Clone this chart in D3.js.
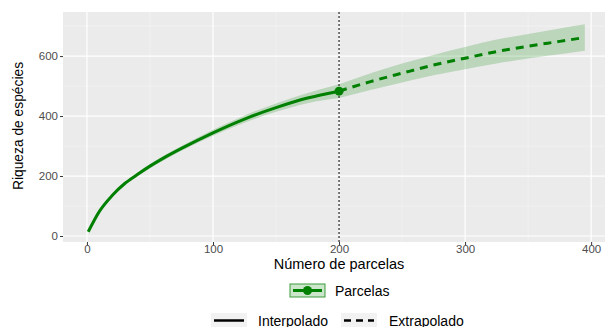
<!DOCTYPE html>
<html>
<head>
<meta charset="utf-8">
<script src="https://cdn.jsdelivr.net/npm/d3@7"></script>
<style>
  body { margin: 0; background: #fff; }
  text { font-family: 'Liberation Sans', Arial, sans-serif; }
</style>
</head>
<body>
<script>
// variables:
var w = 605
var h = 327
var margin = { top: 12, right: 0, bottom: 85, left: 63 }

// data
var interpX = [1, 10, 20, 30, 40, 50, 60, 75, 100, 125, 150, 175, 200]
var interpY = [14, 83, 135, 175, 205, 233, 258, 292, 344, 390, 428, 460, 483]
var interpLo = [13, 80, 131, 170, 199, 226, 250, 284, 334, 378, 414, 443, 460]
var interpHi = [15, 86, 139, 180, 211, 240, 266, 300, 354, 402, 442, 477, 506]

var extrapX = [200, 225, 250, 275, 300, 325, 350, 375, 395]
var extrapY = [483, 515, 543, 570, 593, 615, 633, 649, 662]
var extrapLo = [460, 487, 512, 536, 556, 575, 592, 606, 618]
var extrapHi = [506, 543, 575, 604, 630, 655, 674, 692, 706]

var refSize = 200
var refRichness = 483

var xTicks = [0, 100, 200, 300, 400]
var yTicks = [0, 200, 400, 600]

var green = '#008000'
var ribbon = 'rgba(0,128,0,0.2)'

var svg = d3.select('body')
  .append('svg')
  .attr('width', w)
  .attr('height', h)

var pw = w - margin.left - margin.right
var ph = h - margin.top - margin.bottom

var xScale = d3.scaleLinear().domain([-19, 411]).range([0, pw])
var yScale = d3.scaleLinear().domain([-20, 747]).range([ph, 0])

var g = svg.append('g').attr('transform', 'translate(' + margin.left + ',' + margin.top + ')')

// panel + grid
g.append('rect').attr('width', pw).attr('height', ph).attr('fill', '#EBEBEB')
var minorX = [50, 150, 250, 350]
var minorY = [100, 300, 500, 700]
g.selectAll('.mx').data(minorX).enter().append('line')
  .attr('x1', function (d) { return xScale(d) }).attr('x2', function (d) { return xScale(d) })
  .attr('y1', 0).attr('y2', ph).attr('stroke', '#F5F5F5').attr('stroke-width', 0.6)
g.selectAll('.my').data(minorY).enter().append('line')
  .attr('y1', function (d) { return yScale(d) }).attr('y2', function (d) { return yScale(d) })
  .attr('x1', 0).attr('x2', pw).attr('stroke', '#F5F5F5').attr('stroke-width', 0.6)
g.selectAll('.gx').data(xTicks).enter().append('line')
  .attr('x1', function (d) { return xScale(d) }).attr('x2', function (d) { return xScale(d) })
  .attr('y1', 0).attr('y2', ph).attr('stroke', '#fff').attr('stroke-width', 1.2)
g.selectAll('.gy').data(yTicks).enter().append('line')
  .attr('y1', function (d) { return yScale(d) }).attr('y2', function (d) { return yScale(d) })
  .attr('x1', 0).attr('x2', pw).attr('stroke', '#fff').attr('stroke-width', 1.2)

// ribbons
var interp = interpX.map(function (x, i) { return { x: x, y: interpY[i], lo: interpLo[i], hi: interpHi[i] } })
var extrap = extrapX.map(function (x, i) { return { x: x, y: extrapY[i], lo: extrapLo[i], hi: extrapHi[i] } })

var area = d3.area()
  .x(function (d) { return xScale(d.x) })
  .y0(function (d) { return yScale(d.lo) })
  .y1(function (d) { return yScale(d.hi) })
  .curve(d3.curveMonotoneX)
var line = d3.line()
  .x(function (d) { return xScale(d.x) })
  .y(function (d) { return yScale(d.y) })
  .curve(d3.curveMonotoneX)

g.append('path').datum(interp).attr('d', area).attr('fill', ribbon)
g.append('path').datum(extrap).attr('d', area).attr('fill', ribbon)

// reference line
g.append('line')
  .attr('x1', xScale(refSize)).attr('x2', xScale(refSize))
  .attr('y1', 0).attr('y2', ph)
  .attr('stroke', '#333').attr('stroke-width', 1.3).attr('stroke-dasharray', '2,2')

g.append('path').datum(interp).attr('d', line)
  .attr('fill', 'none').attr('stroke', green).attr('stroke-width', 3)
g.append('path').datum(extrap).attr('d', line)
  .attr('fill', 'none').attr('stroke', green).attr('stroke-width', 3)
  .attr('stroke-dasharray', '8,6')

g.append('circle')
  .attr('cx', xScale(refSize)).attr('cy', yScale(refRichness))
  .attr('r', 4.5).attr('fill', green)

// axes
var xAxis = g.append('g').attr('transform', 'translate(0,' + ph + ')')
  .call(d3.axisBottom(xScale).tickValues(xTicks).tickSize(3).tickPadding(0))
var yAxis = g.append('g')
  .call(d3.axisLeft(yScale).tickValues(yTicks).tickSize(3).tickPadding(2))
;[xAxis, yAxis].forEach(function (a) {
  a.select('.domain').remove()
  a.selectAll('line').attr('stroke', '#333')
  a.selectAll('text').attr('fill', '#4D4D4D').attr('font-size', '11.5px')
    .attr('font-family', "'Liberation Sans', Arial, sans-serif")
})

// axis titles
svg.append('text')
  .attr('x', margin.left + xScale(200)).attr('y', 269)
  .attr('text-anchor', 'middle').attr('font-size', '14.5px').attr('fill', '#000')
  .text('Número de parcelas')
svg.append('text')
  .attr('transform', 'translate(23,126) rotate(-90) scale(0.92,1)')
  .attr('text-anchor', 'middle').attr('font-size', '15px').attr('fill', '#000')
  .text('Riqueza de espécies')

// legend 1
var lg = svg.append('g').attr('transform', 'translate(290,284)')
lg.append('rect').attr('width', 35).attr('height', 13)
  .attr('fill', ribbon).attr('stroke', '#3c9a3c').attr('stroke-width', 1)
lg.append('line').attr('x1', 3).attr('x2', 32).attr('y1', 6.5).attr('y2', 6.5)
  .attr('stroke', green).attr('stroke-width', 3)
lg.append('circle').attr('cx', 17.5).attr('cy', 6.5).attr('r', 4.5).attr('fill', green)
lg.append('text').attr('x', 45).attr('y', 11.5).attr('font-size', '14px').attr('fill', '#000').text('Parcelas')

// legend 2
var lg2 = svg.append('g').attr('transform', 'translate(211,313)')
lg2.append('rect').attr('width', 36).attr('height', 15).attr('fill', '#F2F2F2')
lg2.append('line').attr('x1', 3).attr('x2', 33).attr('y1', 7.5).attr('y2', 7.5)
  .attr('stroke', '#000').attr('stroke-width', 2.5)
lg2.append('text').attr('x', 47).attr('y', 12.5).attr('font-size', '14px').attr('fill', '#000').text('Interpolado')
lg2.append('rect').attr('x', 130).attr('width', 36).attr('height', 15).attr('fill', '#F2F2F2')
lg2.append('line').attr('x1', 133).attr('x2', 163).attr('y1', 7.5).attr('y2', 7.5)
  .attr('stroke', '#000').attr('stroke-width', 2.5).attr('stroke-dasharray', '7,5')
lg2.append('text').attr('x', 178).attr('y', 12.5).attr('font-size', '14px').attr('fill', '#000').text('Extrapolado')
</script>
</body>
</html>
